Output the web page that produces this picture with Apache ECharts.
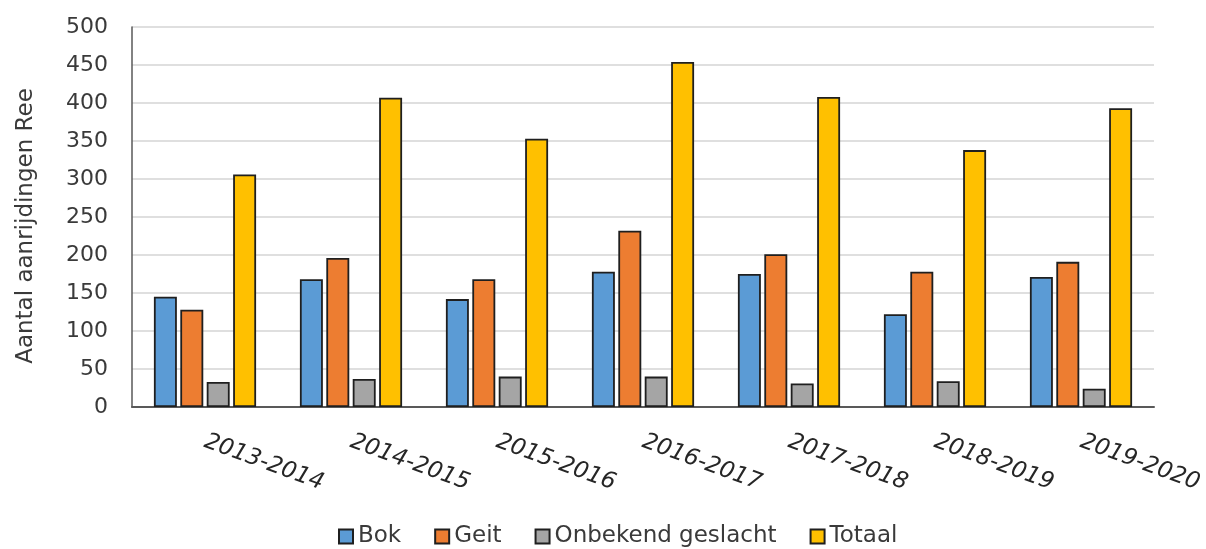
<!DOCTYPE html>
<html>
<head>
<meta charset="utf-8">
<script src="https://cdn.jsdelivr.net/npm/echarts@6/dist/echarts.min.js"></script>
<style>
  html, body { margin: 0; padding: 0; background: #ffffff; }
  #chart { width: 1206px; height: 549px; }
</style>
</head>
<body>
<div id="chart"></div>
<script>
// Seasons on the x axis
const seasons = ['2013-2014', '2014-2015', '2015-2016', '2016-2017', '2017-2018', '2018-2019', '2019-2020'];

// Number of roe deer road casualties per season
const bok      = [145, 168, 142, 178, 175, 122, 171];
const geit     = [128, 196, 168, 232, 201, 178, 191];
const onbekend = [33, 37, 40, 40, 31, 34, 24];
const totaal   = [306, 407, 353, 454, 408, 338, 393];

const seriesNames = ['Bok', 'Geit', 'Onbekend geslacht', 'Totaal'];
const seriesData = [bok, geit, onbekend, totaal];
const seriesColors = ['#5B9BD5', '#ED7D31', '#A5A5A5', '#FFC000'];

const FONT = '"DejaVu Sans", "Liberation Sans", sans-serif';
const TEXT_COLOR = '#3a3a3a';

const chart = echarts.init(document.getElementById('chart'));

chart.setOption({
  backgroundColor: '#ffffff',
  animation: false,
  grid: { left: 132, right: 52, top: 27, bottom: 142, containLabel: false },
  legend: {
    data: seriesNames,
    left: 333,
    top: 520,
    icon: 'rect',
    itemWidth: 14,
    itemHeight: 14,
    itemGap: 33,
    textStyle: { fontFamily: FONT, fontSize: 23, color: TEXT_COLOR }
  },
  xAxis: {
    type: 'category',
    data: seasons,
    axisLine: { show: true, lineStyle: { color: '#595959', width: 2 } },
    axisTick: { show: false },
    axisLabel: {
      rotate: -20,
      margin: 34,
      interval: 0,
      fontFamily: FONT,
      fontSize: 23,
      fontStyle: 'italic',
      color: '#262626'
    }
  },
  yAxis: {
    type: 'value',
    min: 0,
    max: 500,
    interval: 50,
    name: 'Aantal aanrijdingen Ree',
    nameLocation: 'middle',
    nameGap: 94,
    nameTextStyle: { fontFamily: FONT, fontSize: 23, color: TEXT_COLOR, padding: [0, 18, 0, 0] },
    axisLine: { show: true, lineStyle: { color: '#595959', width: 1.5 } },
    axisTick: { show: false },
    axisLabel: { margin: 24, fontFamily: FONT, fontSize: 22, color: TEXT_COLOR },
    splitLine: { show: true, lineStyle: { color: '#d4d4d4', width: 1.5 } }
  },
  series: seriesNames.map((name, i) => ({
    name: name,
    type: 'bar',
    data: seriesData[i],
    barGap: '15%',
    barCategoryGap: '30%',
    itemStyle: { color: seriesColors[i], borderColor: '#1f1f1f', borderWidth: 1.8 }
  }))
});
</script>
</body>
</html>
